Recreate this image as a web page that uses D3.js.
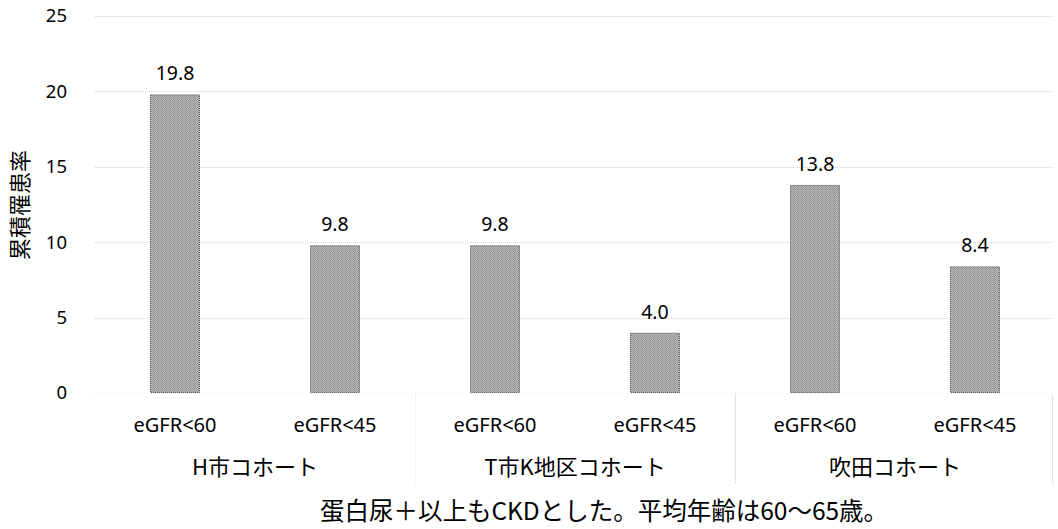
<!DOCTYPE html>
<html>
<head>
<meta charset="utf-8">
<script src="https://cdn.jsdelivr.net/npm/d3@7"></script>
<style>
  html, body { margin: 0; padding: 0; background: #fff; }
  svg { display: block; }
  text { fill: #000; }
</style>
</head>
<body>
<svg id="chart" width="1058" height="529"></svg>
<script>
// Cumulative incidence by cohort and eGFR threshold
const cohorts = ["H市コホート", "T市K地区コホート", "吹田コホート"];
const thresholds = ["eGFR<60", "eGFR<45"];
const values = [19.8, 9.8, 9.8, 4.0, 13.8, 8.4];
const yTicks = [0, 5, 10, 15, 20, 25];
const yTitle = "累積罹患率";
const footnote = "蛋白尿＋以上もCKDとした。平均年齢は60～65歳。";

const rows = [];
cohorts.forEach((c, gi) => thresholds.forEach((t, ti) => {
  rows.push({ key: gi + "-" + ti, cohort: c, label: t, value: values[gi * thresholds.length + ti] });
}));

const svg = d3.select("#chart");
const plotLeft = 95, plotRight = 1055, plotTop = 16, plotBottom = 393;
const latin = "'Noto Sans', 'Noto Sans CJK JP', sans-serif";
const cjk = "'Noto Sans CJK JP', 'Noto Sans', sans-serif";

const x = d3.scaleBand()
  .domain(rows.map(d => d.key))
  .range([plotLeft, plotRight])
  .paddingInner(0.6875)
  .paddingOuter(0.34375);
const step = x.step();

const y = d3.scaleLinear().domain([0, 25]).range([plotBottom, plotTop]);

// Grainy fill for the bars
const defs = svg.append("defs");
const pat = defs.append("pattern")
  .attr("id", "grain").attr("patternUnits", "userSpaceOnUse")
  .attr("width", 4).attr("height", 4);
const grainShades = [
  "#959595", "#b6b6b6", "#8a8a8a", "#c0c0c0",
  "#bbbbbb", "#8e8e8e", "#b2b2b2", "#9b9b9b",
  "#a0a0a0", "#c4c4c4", "#939393", "#adadad",
  "#b7b7b7", "#888888", "#bebebe", "#9c9c9c"
];
grainShades.forEach((c, i) => {
  pat.append("rect").attr("x", i % 4).attr("y", Math.floor(i / 4))
    .attr("width", 1).attr("height", 1).attr("fill", c);
});

// Gridlines
svg.append("g").selectAll("line")
  .data(yTicks.filter(v => v > 0))
  .join("line")
  .attr("x1", plotLeft).attr("x2", 1052)
  .attr("y1", d => Math.round(y(d)) + 0.5).attr("y2", d => Math.round(y(d)) + 0.5)
  .attr("stroke", "#d4d4d4").attr("stroke-width", 1)
  .attr("stroke-dasharray", "1,1");

// Baseline
svg.append("line")
  .attr("x1", plotLeft).attr("x2", 1052)
  .attr("y1", Math.round(y(0)) + 0.5).attr("y2", Math.round(y(0)) + 0.5)
  .attr("stroke", "#dedede").attr("stroke-dasharray", "1,3");

// Y axis labels
const yAxis = d3.axisLeft(y).tickValues(yTicks).tickSize(0).tickPadding(0);
const ya = svg.append("g").attr("transform", `translate(67,0)`).call(yAxis);
ya.select(".domain").remove();
ya.selectAll("text").attr("font-family", latin).attr("font-size", 18.5).attr("fill", "#000");

// Y title
svg.append("text")
  .attr("transform", `translate(28,205) rotate(-90)`)
  .attr("text-anchor", "middle")
  .attr("font-family", cjk).attr("font-size", 22)
  .text(yTitle);

// Bars
svg.append("g").selectAll("rect")
  .data(rows)
  .join("rect")
  .attr("x", d => x(d.key) + 0.5)
  .attr("y", d => y(d.value) + 0.5)
  .attr("width", x.bandwidth() - 1)
  .attr("height", d => y(0) - y(d.value) - 1)
  .attr("fill", "url(#grain)")
  .attr("stroke", "#4a4a4a").attr("stroke-width", 1)
  .attr("stroke-dasharray", "1,1");

// Value labels
svg.append("g").selectAll("text")
  .data(rows)
  .join("text")
  .attr("x", d => x(d.key) + x.bandwidth() / 2)
  .attr("y", d => y(d.value) - 14)
  .attr("text-anchor", "middle")
  .attr("font-family", latin).attr("font-size", 19.5)
  .text(d => d.value.toFixed(1));

// Category labels (eGFR thresholds)
svg.append("g").selectAll("text")
  .data(rows)
  .join("text")
  .attr("x", d => x(d.key) + x.bandwidth() / 2)
  .attr("y", 432)
  .attr("text-anchor", "middle")
  .attr("font-family", latin).attr("font-size", 20)
  .text(d => d.label);

// Cohort group labels
svg.append("g").selectAll("text")
  .data(cohorts)
  .join("text")
  .attr("x", (d, i) => plotLeft + step * (i * 2 + 1))
  .attr("y", 475)
  .attr("text-anchor", "middle")
  .attr("font-family", cjk).attr("font-size", 22)
  .text(d => d);

// Group separators
const seps = [
  { x: plotLeft + step * 2, color: "#e6e6e6" },
  { x: plotLeft + step * 4, color: "#c8c8c8" },
  { x: 1052, color: "#c8c8c8" }
];
svg.append("g").selectAll("line")
  .data(seps)
  .join("line")
  .attr("x1", d => Math.round(d.x) + 0.5).attr("x2", d => Math.round(d.x) + 0.5)
  .attr("y1", 395).attr("y2", 485)
  .attr("stroke", d => d.color).attr("stroke-dasharray", "1,1");

// Footnote
svg.append("text")
  .attr("x", 604).attr("y", 520)
  .attr("text-anchor", "middle")
  .attr("font-family", cjk).attr("font-size", 24.5)
  .text(footnote);
</script>
</body>
</html>
